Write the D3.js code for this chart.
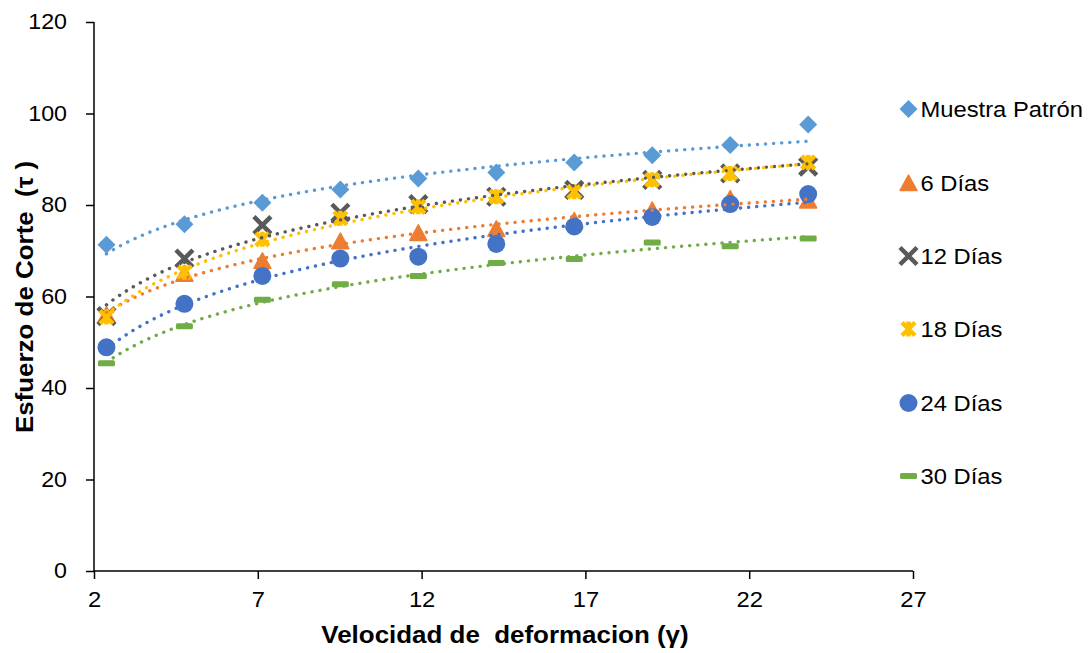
<!DOCTYPE html>
<html>
<head>
<meta charset="utf-8">
<script src="https://cdn.jsdelivr.net/npm/d3@7/dist/d3.min.js"></script>
<style>
  html, body { margin: 0; padding: 0; background: #fff; }
  svg { display: block; font-family: Arial, "Liberation Sans", sans-serif; }
  svg text { white-space: pre; }
</style>
</head>
<body>
<svg id="chart" width="1092" height="653"></svg>
<script>
// ---- data ----
const xValues = [2.38, 4.76, 7.14, 9.52, 11.9, 14.28, 16.66, 19.04, 21.42, 23.8];
const seriesNames = ["Muestra Patrón", "6 Días", "12 Días", "18 Días", "24 Días", "30 Días"];
const patron  = [71.3, 75.8, 80.5, 83.4, 85.8, 87.1, 89.3, 90.9, 93.1, 97.6];
const dias6   = [56.0, 65.0, 67.8, 72.1, 73.9, 74.8, 76.6, 78.9, 81.4, 81.0];
const dias12  = [55.7, 68.3, 75.6, 78.3, 80.2, 81.8, 83.3, 85.5, 86.9, 88.4];
const dias18  = [55.5, 65.3, 72.5, 77.1, 79.6, 81.8, 82.9, 85.5, 86.9, 89.3];
const dias24  = [48.9, 58.4, 64.5, 68.3, 68.7, 71.5, 75.3, 77.4, 80.2, 82.4];
const dias30  = [45.4, 53.5, 59.3, 62.7, 64.5, 67.3, 68.2, 71.8, 71.0, 72.7];
const xTicks = [2, 7, 12, 17, 22, 27];
const yTicks = [0, 20, 40, 60, 80, 100, 120];
const colors = ["#5B9BD5", "#ED7D31", "#595959", "#FFC000", "#4472C4", "#70AD47"];
const shapes = ["diamond", "triangle", "x", "star", "circle", "dash"];
const xTitle = "Velocidad de  deformacion (γ)";
const yTitle = "Esfuerzo de Corte  (τ )";

const allSeries = [patron, dias6, dias12, dias18, dias24, dias30].map((vals, i) => ({
  name: seriesNames[i], values: vals, color: colors[i], shape: shapes[i]
}));

// ---- layout ----
const svg = d3.select("#chart");
const pLeft = 94, pRight = 913, pTop = 22, pBottom = 571;
const x = d3.scaleLinear().domain([2, 27]).range([pLeft, pRight]);
const y = d3.scaleLinear().domain([0, 120]).range([pBottom, pTop]);
const FONT = "Arial, 'Liberation Sans', sans-serif";
const STRETCH = 1.08;

function stretch(sel, k) {
  sel.each(function () {
    const w = this.getComputedTextLength();
    d3.select(this).attr("textLength", w * (k || STRETCH)).attr("lengthAdjust", "spacingAndGlyphs");
  });
}

// axes
const yAxis = d3.axisLeft(y).tickValues(yTicks).tickSize(8).tickPadding(6);
const gy = svg.append("g").attr("transform", `translate(${pLeft},0)`).call(yAxis);
gy.select(".domain").attr("stroke", "#000").attr("stroke-width", 1.5).attr("d", `M0,${pBottom}V${pTop}`);
gy.selectAll(".tick line").attr("stroke", "#000").attr("stroke-width", 1.5);
gy.selectAll(".tick text").attr("font-size", 21.5).attr("fill", "#000")
  .attr("font-family", FONT).attr("x", -27).call(stretch);

const xAxis = d3.axisBottom(x).tickValues(xTicks).tickSize(8).tickPadding(12).tickFormat(d3.format("d"));
const gx = svg.append("g").attr("transform", `translate(0,${pBottom})`).call(xAxis);
gx.select(".domain").attr("stroke", "#000").attr("stroke-width", 1.5).attr("d", `M${pLeft},0H${pRight}`);
gx.selectAll(".tick line").attr("stroke", "#000").attr("stroke-width", 1.5);
gx.selectAll(".tick text").attr("font-size", 22).attr("fill", "#000")
  .attr("font-family", FONT).call(stretch);

// titles
svg.append("text").attr("x", 505).attr("y", 643).attr("text-anchor", "middle")
  .attr("font-size", 24).attr("font-weight", "bold").text(xTitle).call(stretch);
svg.append("text").attr("transform", `translate(33,297) rotate(-90)`).attr("text-anchor", "middle")
  .attr("font-size", 24).attr("font-weight", "bold").text(yTitle).call(stretch);

// marker drawing
function drawMarker(g, shape, color) {
  const s = 9;
  if (shape === "diamond") {
    g.append("path").attr("d", `M0,${-s}L${s},0L0,${s}L${-s},0Z`).attr("fill", color);
  } else if (shape === "triangle") {
    g.append("path").attr("d", `M0,${-8}L${8.5},${7.5}L${-8.5},${7.5}Z`).attr("fill", color)
      .attr("stroke", color).attr("stroke-width", 1.5).attr("stroke-linejoin", "round");
  } else if (shape === "x") {
    const r = 8.5;
    g.append("path").attr("d", `M${-r},${-r}L${r},${r}M${r},${-r}L${-r},${r}`)
      .attr("stroke", color).attr("stroke-width", 4.5).attr("fill", "none");
  } else if (shape === "star") {
    const r = 6.5;
    g.append("path").attr("d", `M${-r},${-r}L${r},${r}M${r},${-r}L${-r},${r}M0,${-r - 1}V${r + 1}`)
      .attr("stroke", color).attr("stroke-width", 4.5).attr("fill", "none");
  } else if (shape === "circle") {
    g.append("circle").attr("r", 9).attr("fill", color);
  } else if (shape === "dash") {
    g.append("rect").attr("x", -8.5).attr("y", -3).attr("width", 17).attr("height", 6)
      .attr("rx", 1.5).attr("fill", color);
  }
}

// markers
allSeries.forEach(s => {
  const g = svg.append("g");
  s.values.forEach((v, i) => {
    const m = g.append("g").attr("transform", `translate(${x(xValues[i])},${y(v)})`);
    drawMarker(m, s.shape, s.color);
  });
});

// logarithmic trendlines (least squares fit of y = a ln x + b)
allSeries.forEach(s => {
  const lx = xValues.map(Math.log);
  const mx = d3.mean(lx), my = d3.mean(s.values);
  let num = 0, den = 0;
  lx.forEach((l, i) => { num += (l - mx) * (s.values[i] - my); den += (l - mx) ** 2; });
  const a = num / den, b = my - a * mx;
  const xs = d3.range(0, 101).map(k => xValues[0] + (xValues[xValues.length - 1] - xValues[0]) * k / 100);
  const line = d3.line().x(d => x(d)).y(d => y(a * Math.log(d) + b));
  svg.append("path").attr("d", line(xs)).attr("fill", "none").attr("stroke", s.color)
    .attr("stroke-width", 3.4).attr("stroke-linecap", "round").attr("stroke-dasharray", "0.1 8");
});

// legend
const legendY = [109, 183, 256, 329, 403, 476];
allSeries.forEach((s, i) => {
  const g = svg.append("g").attr("transform", `translate(908.5,${legendY[i]})`);
  drawMarker(g, s.shape, s.color);
  g.append("text").attr("x", 12).attr("y", 7.5).attr("font-size", 22).attr("fill", "#000")
    .text(s.name).call(stretch);
});
</script>
</body>
</html>
